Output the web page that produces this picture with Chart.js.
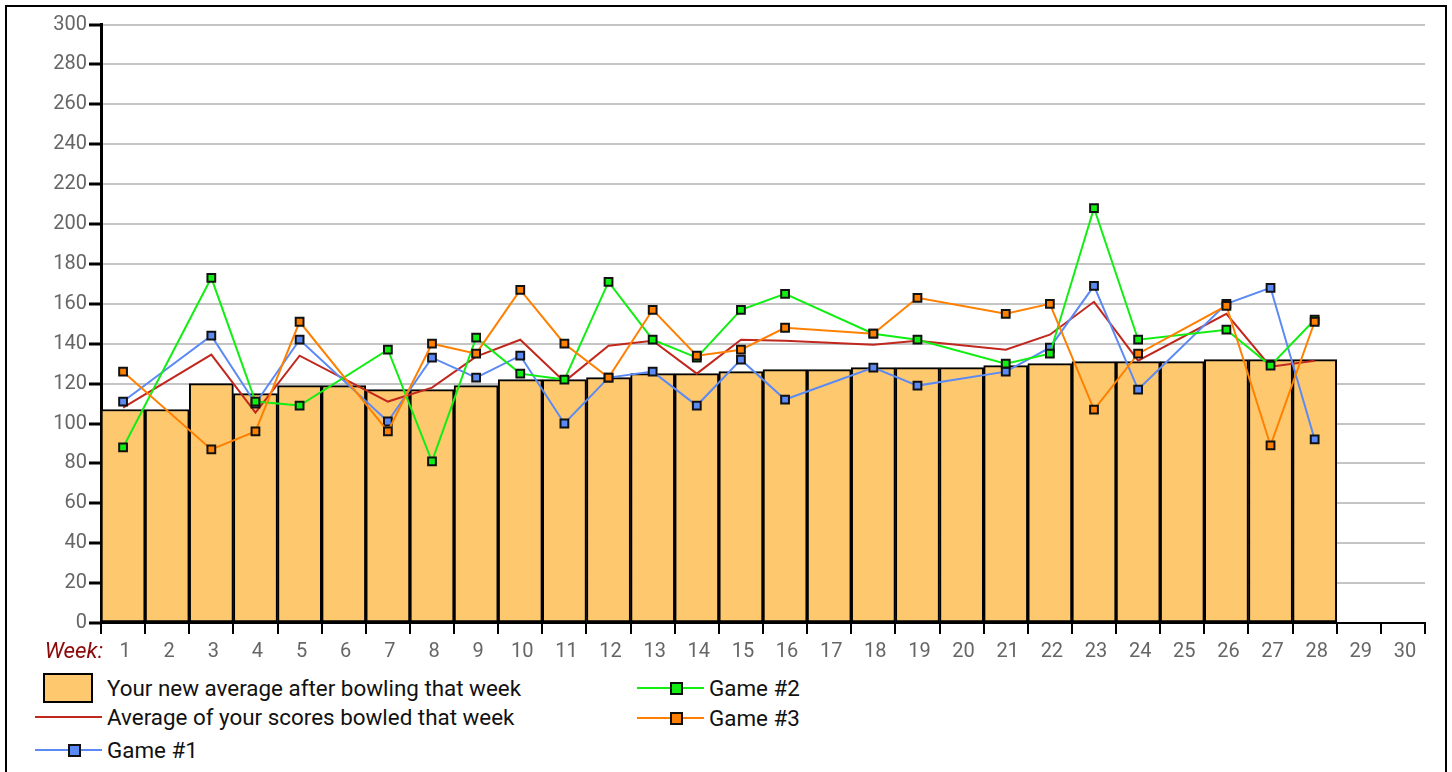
<!DOCTYPE html>
<html>
<head>
<meta charset="utf-8">
<title>Bowling averages by week</title>
<script src="https://cdn.jsdelivr.net/npm/chart.js@4.4.1/dist/chart.umd.min.js"></script>
<style>
  html, body { margin: 0; padding: 0; background: #fff; overflow: hidden; }
  body { width: 1452px; height: 772px; position: relative; font-family: Roboto, sans-serif; }
  #frame {
    position: absolute; left: 5px; top: 5px; width: 1438px; height: 800px;
    border: 2px solid #000;
  }
  #chartBox { position: absolute; left: 7px; top: 7px; }
  #legend { position: absolute; left: 0; top: 0; }
  .item { position: absolute; height: 30px; }
  .item .txt {
    position: absolute; left: 0; top: 0; white-space: nowrap;
    font: 22.4px Roboto, sans-serif; color: #111; line-height: 30px;
    transform: translateY(-50%);
  }
  .sw { position: absolute; }
</style>
</head>
<body>
<div id="frame"></div>
<div id="chartBox"><canvas id="bowlingChart" width="1437" height="661"></canvas></div>
<div id="legend"></div>
<script>
// weeks along the bottom
var weeks = ["1","2","3","4","5","6","7","8","9","10","11","12","13","14","15",
             "16","17","18","19","20","21","22","23","24","25","26","27","28","29","30"];

// running average after each week (bars)
var newAverage = [107, 107, 120, 115, 119, 119, 117, 117, 119, 122, 122, 123, 125, 125, 126,
                  127, 127, 128, 128, 128, 129, 130, 131, 131, 131, 132, 132, 132, null, null];

// average of the three games bowled that week
var weekAverage = [108, null, 134.5, 105.5, 134, null, 111, 118, 133.5, 142, 121, 139, 141.5, 125, 142,
                   141.5, null, 139.5, 141.5, null, 137, 144.5, 161, 131.5, null, 155, 128.5, 131.5, null, null];

var game1 = [111, null, 144, 110, 142, null, 101, 133, 123, 134, 100, 123, 126, 109, 132,
             112, null, 128, 119, null, 126, 138, 169, 117, null, 160, 168, 92, null, null];
var game2 = [88, null, 173, 111, 109, null, 137, 81, 143, 125, 122, 171, 142, 133, 157,
             165, null, 145, 142, null, 130, 135, 208, 142, null, 147, 129, 152, null, null];
var game3 = [126, null, 87, 96, 151, null, 96, 140, 135, 167, 140, 123, 157, 134, 137,
             148, null, 145, 163, null, 155, 160, 107, 135, null, 159, 89, 151, null, null];

var FONT = "Roboto";

function gameLine(label, data, color, order) {
  return {
    type: "line",
    label: label,
    data: data,
    borderColor: color,
    backgroundColor: color,
    borderWidth: 2,
    tension: 0,
    spanGaps: true,
    fill: false,
    pointStyle: "rect",
    pointRadius: 5.5,
    pointBorderWidth: 2,
    pointBorderColor: "#111",
    pointBackgroundColor: color,
    order: order
  };
}

// "Week:" caption left of the x tick labels
var weekCaption = {
  id: "weekCaption",
  afterDraw: function (chart) {
    var x = chart.scales.x;
    var c = chart.ctx;
    c.save();
    c.font = "italic 22.4px " + FONT;
    c.fillStyle = "#8b0a0a";
    c.textAlign = "right";
    c.textBaseline = "middle";
    c.fillText("Week:", chart.chartArea.left + 2, x.top + 11 + 6 + 12);
    c.restore();
  }
};

var ctx = document.getElementById("bowlingChart").getContext("2d");
var chart = new Chart(ctx, {
  data: {
    labels: weeks,
    datasets: [
      {
        type: "bar",
        label: "Your new average after bowling that week",
        data: newAverage,
        backgroundColor: "#fec86e",
        borderColor: "#000",
        borderWidth: 2,
        borderSkipped: false,
        barPercentage: 1,
        categoryPercentage: 1,
        order: 5
      },
      {
        type: "line",
        label: "Average of your scores bowled that week",
        data: weekAverage,
        borderColor: "#c0281e",
        backgroundColor: "#c0281e",
        borderWidth: 2,
        tension: 0,
        spanGaps: true,
        fill: false,
        pointRadius: 0,
        order: 4
      },
      gameLine("Game #1", game1, "#5b8af5", 3),
      gameLine("Game #2", game2, "#11ee11", 2),
      gameLine("Game #3", game3, "#ff8000", 1)
    ]
  },
  options: {
    responsive: false,
    animation: false,
    layout: { padding: { top: 17.5, right: 19, left: 0, bottom: 0 } },
    plugins: {
      legend: { display: false },
      tooltip: { enabled: false },
      title: { display: false }
    },
    scales: {
      x: {
        offset: true,
        grid: {
          display: true,
          drawOnChartArea: false,
          offset: true,
          color: "#000",
          lineWidth: 2,
          tickLength: 11
        },
        border: { color: "#000", width: 2 },
        ticks: {
          color: "#666",
          font: { family: FONT, size: 20 },
          padding: 6,
          labelOffset: 2,
          maxRotation: 0,
          autoSkip: false
        },
        afterFit: function (scale) { scale.height = 45; }
      },
      y: {
        min: 0,
        max: 300,
        ticks: {
          stepSize: 20,
          color: "#666",
          font: { family: FONT, size: 20 },
          padding: 2
        },
        grid: {
          color: "#c4c4c4",
          lineWidth: 2,
          tickColor: "#000",
          tickLength: 12,
          tickWidth: 3
        },
        border: { color: "#000", width: 3 },
        afterFit: function (scale) { scale.width = 94; }
      }
    }
  },
  plugins: [weekCaption]
});

// legend laid out in two columns, built from the chart's datasets
var legendSpots = [
  { x: 35, y: 688 },
  { x: 35, y: 717 },
  { x: 35, y: 750 },
  { x: 637, y: 688 },
  { x: 637, y: 718 }
];
var legendBox = document.getElementById("legend");
chart.data.datasets.forEach(function (ds, i) {
  var spot = legendSpots[i];
  var item = document.createElement("div");
  item.className = "item";
  item.style.left = spot.x + "px";
  item.style.top = spot.y + "px";
  if (ds.type === "bar") {
    var box = document.createElement("div");
    box.className = "sw";
    box.style.cssText = "left:8px;top:-15px;width:46px;height:26px;border:2px solid #000;background:" + ds.backgroundColor;
    item.appendChild(box);
  } else {
    var line = document.createElement("div");
    line.className = "sw";
    line.style.cssText = "left:0;top:-1px;width:67px;height:2px;background:" + ds.borderColor;
    item.appendChild(line);
    if (ds.pointRadius > 0) {
      var pt = document.createElement("div");
      pt.className = "sw";
      pt.style.cssText = "left:33px;top:-6px;width:9px;height:9px;border:2px solid #111;background:" + ds.pointBackgroundColor;
      item.appendChild(pt);
    }
  }
  var txt = document.createElement("div");
  txt.className = "txt";
  txt.style.left = "72px";
  txt.textContent = ds.label;
  item.appendChild(txt);
  legendBox.appendChild(item);
});
</script>
</body>
</html>
